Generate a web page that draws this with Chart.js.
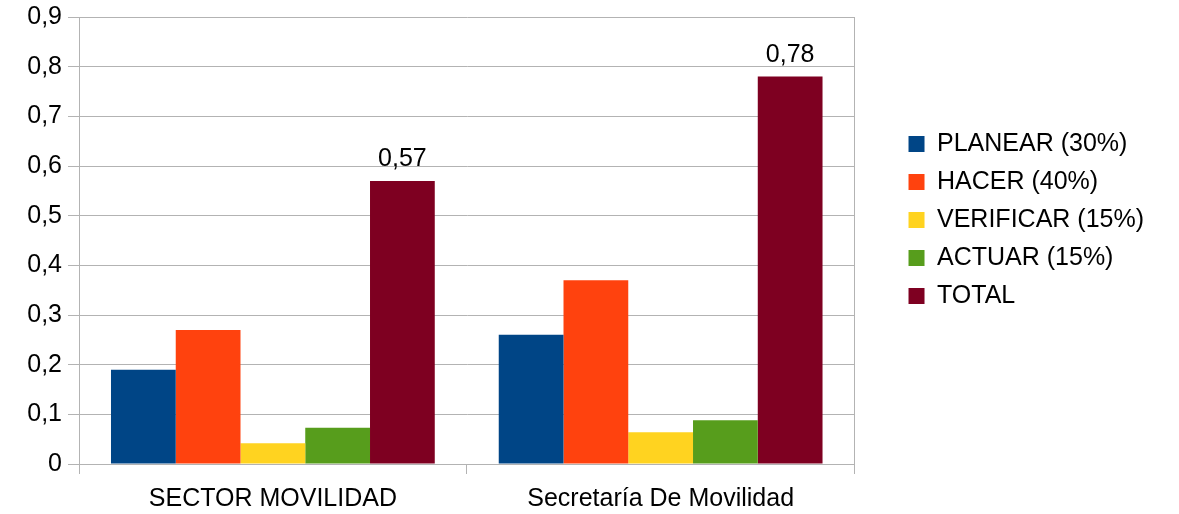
<!DOCTYPE html>
<html>
<head>
<meta charset="utf-8">
<script src="https://cdn.jsdelivr.net/npm/chart.js@4/dist/chart.umd.min.js"></script>
<style>
  html, body { margin: 0; padding: 0; background: #fff; }
  #wrap { width: 1179px; height: 514px; }
</style>
</head>
<body>
<div id="wrap"><canvas id="chart"></canvas></div>
<script>
// -----------------------
// datos
// -----------------------
const categories = ["SECTOR MOVILIDAD", "Secretaría De Movilidad"];
const planear = [0.19, 0.26];
const hacer = [0.27, 0.37];
const verificar = [0.042, 0.064];
const actuar = [0.073, 0.088];
const total = [0.57, 0.78];
const seriesNames = ["PLANEAR (30%)", "HACER (40%)", "VERIFICAR (15%)", "ACTUAR (15%)", "TOTAL"];
const seriesColors = ["#004586", "#ff420e", "#ffd320", "#579d1c", "#7e0021"];
const yTicks = [0, 0.1, 0.2, 0.3, 0.4, 0.5, 0.6, 0.7, 0.8, 0.9];

const fmt = v => v === 0 ? "0" : String(Math.round(v * 100) / 100).replace(".", ",");
const FONT = "'Liberation Sans', Arial, sans-serif";
const FS = 25;
const gridColor = "#b3b3b3";

Chart.defaults.color = "#000";
Chart.defaults.font.family = FONT;
Chart.defaults.font.size = FS;

// etiqueta encima de las barras TOTAL
const totalLabels = {
    id: "totalLabels",
    afterDatasetsDraw(chart) {
        const meta = chart.getDatasetMeta(4);
        const c = chart.ctx;
        c.save();
        c.font = FS + "px " + FONT;
        c.fillStyle = "#000";
        c.textAlign = "center";
        c.textBaseline = "alphabetic";
        meta.data.forEach((bar, i) => {
            c.fillText(fmt(total[i]), bar.x, bar.y - 15);
        });
        c.restore();
    }
};

(function () {
    const ctx = document.getElementById("chart");
    const data = [planear, hacer, verificar, actuar, total];

    new Chart(ctx.getContext("2d"), {
        type: "bar",
        data: {
            labels: categories,
            datasets: data.map((d, i) => ({
                label: seriesNames[i],
                data: d,
                backgroundColor: seriesColors[i],
                borderWidth: 0,
                categoryPercentage: 0.835,
                barPercentage: 1
            }))
        },
        options: {
            responsive: true,
            maintainAspectRatio: false,
            animation: false,
            layout: { padding: { top: 17, right: 25, bottom: 0, left: 0 } },
            plugins: {
                tooltip: { enabled: false },
                legend: {
                    position: "right",
                    align: "start",
                    maxWidth: 400,
                    title: { display: true, text: "", font: { size: 12 }, padding: { top: 0, bottom: 87 } },
                    labels: {
                        boxWidth: 16,
                        boxHeight: 16,
                        padding: 13,
                        color: "#000",
                        font: { size: FS }
                    }
                }
            },
            scales: {
                x: {
                    grid: { drawOnChartArea: false, color: gridColor, tickLength: 10 },
                    border: { color: gridColor },
                    ticks: { padding: 10, font: { size: FS } },
                    afterFit: s => { s.height = 50; }
                },
                y: {
                    min: 0,
                    max: 0.9,
                    afterBuildTicks: s => { s.ticks = yTicks.map(v => ({ value: v })); },
                    grid: { color: gridColor, tickLength: 11 },
                    border: { color: gridColor },
                    ticks: { padding: 6, font: { size: FS }, callback: v => fmt(v) },
                    afterFit: s => { s.width = 79; s.paddingTop = 0; s.paddingBottom = 0; }
                },
                y2: {
                    position: "right",
                    min: 0,
                    max: 0.9,
                    grid: { display: false, drawOnChartArea: false },
                    border: { display: true, color: gridColor },
                    ticks: { display: false },
                    afterFit: s => { s.width = 41; s.paddingTop = 0; s.paddingBottom = 0; }
                }
            }
        },
        plugins: [totalLabels]
    });
})();
</script>
</body>
</html>
